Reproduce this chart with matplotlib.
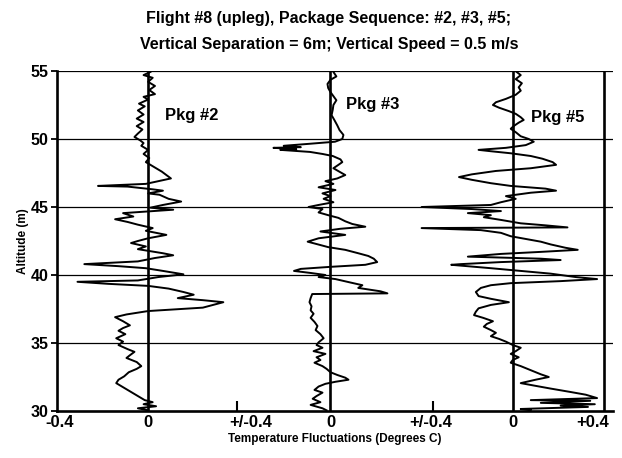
import numpy as np
import matplotlib
matplotlib.use('Agg')
import matplotlib.pyplot as plt

plt.rcParams['font.family'] = ['Liberation Sans', 'DejaVu Sans']
plt.rcParams['font.weight'] = 'bold'

# Package profiles: altitude (m) and temperature fluctuation (deg C)
alt_pkg2 = [54.93, 54.7, 54.5, 54.2, 53.9, 53.6, 53.3, 53.1, 52.9, 52.6, 52.4, 52.1, 51.8, 51.5,
            51.25, 50.95, 50.7, 50.4, 50.15, 49.9, 49.7, 49.5, 49.2, 48.9, 48.6, 48.3, 48.1, 47.6,
            47.1, 46.9, 46.7, 46.55, 46.5, 46.3, 46.2, 46.0, 45.9, 45.6, 45.4, 45.15, 44.95, 44.8,
            44.55, 44.3, 44.1, 43.9, 43.7, 43.45, 43.25, 42.95, 42.7, 42.5, 42.35, 42.1, 41.9, 41.6,
            41.45, 41.25, 41.0, 40.8, 40.65, 40.5, 40.3, 40.05, 39.85, 39.6, 39.5, 39.35, 39.2, 39.0,
            38.75, 38.55, 38.3, 38.15, 38.0, 37.6, 37.35, 37.1, 36.9, 36.6, 36.3, 36.1, 35.9, 35.65,
            35.35, 35.1, 34.85, 34.55, 34.35, 34.1, 33.9, 33.6, 33.3, 33.1, 32.85, 32.55, 32.3, 32.05,
            31.75, 31.5, 31.25, 31.0, 30.8, 30.65, 30.5, 30.35, 30.2, 30.05]
dt_pkg2 = [0.01, -0.02, 0.02, 0.0, 0.03, 0.005, 0.03, -0.02, 0.0, -0.04, -0.015, -0.045, -0.02, -0.05,
           -0.02, -0.05, -0.025, -0.045, -0.06, -0.035, -0.02, -0.03, 0.0, -0.02, 0.005, -0.01, 0.01, 0.06,
           0.10, 0.045, -0.01, -0.22, -0.09, 0.02, 0.065, 0.0, 0.05, 0.09, 0.145, 0.065, 0.01, 0.11,
           -0.11, -0.065, -0.145, -0.09, -0.045, 0.02, -0.01, 0.08, 0.0, -0.045, -0.075, -0.01, -0.045, 0.065,
           0.11, 0.03, -0.045, -0.28, -0.13, -0.01, 0.065, 0.155, 0.045, -0.045, -0.31, -0.175, 0.0, 0.09,
           0.155, 0.2, 0.13, 0.24, 0.33, 0.24, 0.0, -0.095, -0.145, -0.11, -0.08, -0.11, -0.13, -0.10,
           -0.14, -0.11, -0.13, -0.09, -0.06, -0.08, -0.095, -0.05, -0.03, -0.05, -0.085, -0.105, -0.13, -0.14,
           -0.11, -0.085, -0.06, -0.035, -0.015, 0.02, -0.02, 0.035, -0.045, 0.0]

alt_pkg3 = [54.93, 54.6, 54.35, 54.05, 53.75, 53.45, 53.15, 52.85, 52.5, 52.15, 51.75, 51.4, 51.0,
            50.65, 50.3, 50.0, 49.8, 49.65, 49.5, 49.4, 49.35, 49.25, 49.2, 49.05, 48.9, 48.75, 48.5,
            48.3, 48.1, 47.85, 47.55, 47.35, 47.1, 46.9, 46.7, 46.45, 46.25, 46.0, 45.8, 45.6, 45.35,
            45.15, 45.0, 44.85, 44.6, 44.4, 44.2, 43.95, 43.75, 43.55, 43.4, 43.2, 42.95, 42.7, 42.45,
            42.3, 42.05, 41.85, 41.6, 41.4, 41.2, 40.95, 40.75, 40.6, 40.45, 40.3, 40.15, 40.0, 39.85,
            39.7, 39.45, 39.25, 39.05, 38.8, 38.65, 38.6, 38.3, 38.0, 37.7, 37.4, 37.15, 36.85, 36.55,
            36.25, 35.95, 35.65, 35.35, 35.05, 34.85, 34.65, 34.4, 34.2, 33.95, 33.75, 33.55, 33.3,
            33.1, 32.85, 32.65, 32.45, 32.3, 32.15, 32.0, 31.8, 31.55, 31.35, 31.1, 30.9, 30.65, 30.45,
            30.2, 30.05]
dt_pkg3 = [0.013, 0.026, 0.0, -0.013, -0.01, 0.0, 0.013, 0.026, 0.013, 0.01, 0.005, 0.017, 0.03,
           0.04, 0.057, 0.052, 0.02, -0.09, -0.205, -0.13, -0.25, -0.15, -0.22, -0.09, -0.035, 0.01, 0.044,
           0.052, 0.035, 0.013, 0.044, 0.065, 0.03, -0.022, 0.013, -0.052, 0.022, -0.035, 0.0, -0.03, 0.013,
           -0.052, -0.096, -0.035, -0.052, -0.01, 0.035, 0.065, 0.096, 0.153, 0.044, -0.044, 0.065, -0.052, -0.10,
           -0.066, -0.01, 0.065, 0.122, 0.166, 0.19, 0.205, 0.153, 0.0, -0.13, -0.16, -0.087, -0.022, -0.052,
           0.022, 0.087, 0.14, 0.122, 0.22, 0.25, -0.08, -0.087, -0.092, -0.083, -0.087, -0.074, -0.087, -0.07,
           -0.057, -0.065, -0.044, -0.03, -0.052, -0.061, -0.035, -0.074, -0.022, -0.061, -0.044, -0.07, -0.035,
           -0.017, 0.0, 0.03, 0.065, 0.079, 0.022, -0.022, -0.052, -0.07, -0.035, -0.061, -0.078, -0.044, -0.087,
           -0.035, -0.017]

alt_pkg5 = [54.93, 54.7, 54.4, 54.1, 53.8, 53.55, 53.25, 52.95, 52.7, 52.5, 52.3, 52.05, 51.85, 51.6,
            51.4, 51.2, 50.95, 50.75, 50.5, 50.2, 50.0, 49.8, 49.55, 49.35, 49.2, 49.1, 48.95, 48.75,
            48.55, 48.3, 48.1, 47.85, 47.65, 47.4, 47.2, 47.0, 46.75, 46.55, 46.35, 46.2, 46.05, 45.8,
            45.6, 45.35, 45.15, 45.0, 44.85, 44.7, 44.55, 44.4, 44.25, 44.05, 43.8, 43.65, 43.5, 43.45,
            43.3, 43.1, 42.85, 42.65, 42.45, 42.25, 42.0, 41.85, 41.7, 41.55, 41.35, 41.2, 41.1, 40.95,
            40.8, 40.75, 40.5, 40.3, 40.1, 39.85, 39.7, 39.55, 39.4, 39.25, 39.05, 38.75, 38.45, 38.25,
            38.0, 37.8, 37.55, 37.3, 37.05, 36.85, 36.6, 36.4, 36.2, 35.95, 35.75, 35.5, 35.3, 35.1,
            34.85, 34.65, 34.4, 34.2, 33.95, 33.75, 33.55, 33.3, 33.0, 32.7, 32.5, 32.3, 32.05, 31.85,
            31.65, 31.4, 31.2, 30.95, 30.8, 30.75, 30.6, 30.5, 30.4, 30.3, 30.15, 30.05]
dt_pkg5 = [0.017, 0.035, 0.013, 0.04, 0.026, 0.035, 0.013, -0.03, -0.074, -0.087, -0.06, -0.017, 0.013, 0.035,
           0.048, 0.026, 0.004, -0.009, 0.013, 0.035, 0.07, 0.092, 0.057, -0.03, -0.15, -0.096, -0.009, 0.079,
           0.13, 0.175, 0.19, 0.079, -0.074, -0.18, -0.236, -0.18, -0.096, -0.009, 0.144, 0.19, 0.079, -0.03,
           0.013, -0.052, -0.096, -0.40, -0.18, -0.052, -0.197, -0.096, -0.127, -0.052, 0.035, 0.144, 0.24, -0.40,
           -0.14, -0.052, -0.009, 0.057, 0.123, 0.166, 0.232, 0.285, 0.123, -0.052, -0.197, 0.123, 0.21, -0.052,
           -0.228, -0.27, -0.096, 0.035, 0.166, 0.276, 0.37, 0.21, -0.009, -0.096, -0.14, -0.162, -0.15, -0.096,
           -0.017, -0.096, -0.15, -0.162, -0.17, -0.13, -0.087, -0.114, -0.127, -0.096, -0.074, -0.096, -0.06, -0.03,
           0.0, 0.035, 0.013, -0.009, 0.026, 0.0, -0.009, 0.035, 0.079, 0.123, 0.158, 0.1, 0.035, 0.1,
           0.166, 0.253, 0.32, 0.37, 0.079, 0.34, 0.123, 0.36, 0.21, 0.33, 0.035, 0.079]

offsets = [0.0, 0.8, 1.6]
pkg_names = ['Pkg #2', 'Pkg #3', 'Pkg #5']
profiles = [(alt_pkg2, dt_pkg2), (alt_pkg3, dt_pkg3), (alt_pkg5, dt_pkg5)]
label_pos = [(0.072, 51.7), (0.87, 52.5), (1.68, 51.6)]

tick_pos = [-0.39, 0.0, 0.45, 0.8, 1.24, 1.6, 1.95]
tick_labels = ['-0.4', '0', '+/-0.4', '0', '+/-0.4', '0', '+0.4']
inner_ticks = [0.39, 1.25]
grid_alts = [35, 40, 45, 50, 55]

fig = plt.figure(figsize=(6.22, 4.58), dpi=100)
ax = fig.add_axes([0.0916, 0.1026, 0.894, 0.7424])

for a in grid_alts:
    ax.axhline(a, color='black', lw=0.9, zorder=1)
for off in offsets + [2.0]:
    ax.axvline(off, color='black', lw=1.9, zorder=2)

for off, (alt, dt), name, (lx, ly) in zip(offsets, profiles, pkg_names, label_pos):
    ax.plot(off + np.array(dt), alt, color='black', lw=1.4, zorder=3)
    ax.text(lx, ly, name, fontsize=12, fontweight='bold', ha='left', va='center')

ax.set_xlim(-0.4, 2.04)
ax.set_ylim(30, 55)
ax.set_yticks([30, 35, 40, 45, 50, 55])
ax.set_xticks(tick_pos)
ax.set_xticklabels(tick_labels)
ax.set_xticks(inner_ticks, minor=True)
ax.tick_params(axis='x', which='major', length=0, labelsize=12, pad=3)
ax.tick_params(axis='x', which='minor', direction='in', length=7, width=1.5)
ax.tick_params(axis='y', direction='out', length=4, width=1.3, labelsize=11.5, pad=2)
for lab in ax.get_xticklabels() + ax.get_yticklabels():
    lab.set_fontweight('bold')

ax.spines['top'].set_visible(False)
ax.spines['right'].set_visible(False)
ax.spines['left'].set_linewidth(1.9)
ax.spines['bottom'].set_linewidth(1.9)

ax.set_ylabel('Altitude (m)', fontsize=8.5, fontweight='bold', labelpad=1)
ax.set_xlabel('Temperature Fluctuations (Degrees C)', fontsize=8.5, fontweight='bold', labelpad=2)

fig.text(0.528, 0.96, 'Flight #8 (upleg), Package Sequence: #2, #3, #5;', ha='center', va='center',
         fontsize=11.5, fontweight='bold')
fig.text(0.53, 0.903, 'Vertical Separation = 6m; Vertical Speed = 0.5 m/s', ha='center', va='center',
         fontsize=11.5, fontweight='bold')

fig.savefig('out.png', dpi=100)
